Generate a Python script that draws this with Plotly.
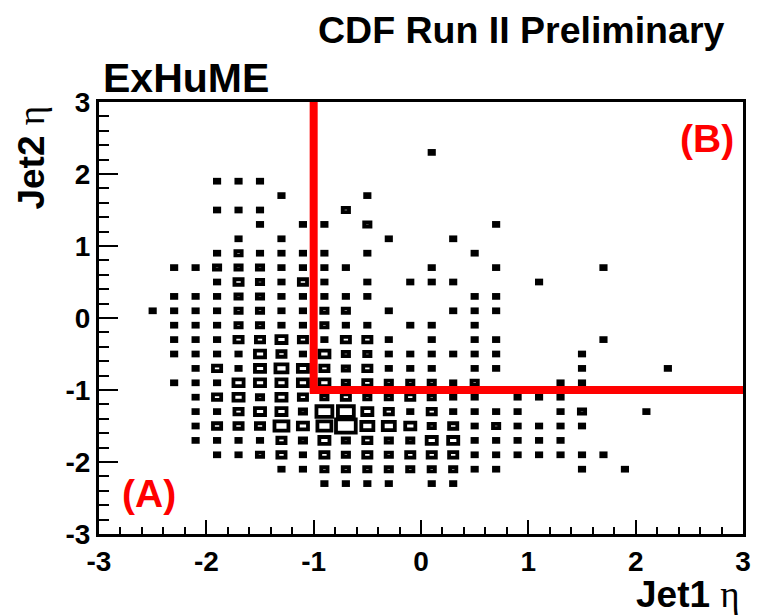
import plotly.graph_objects as go

# ---------------- data (bin centres and box contents) ----------------
# one entry per non-empty 0.2 x 0.2 bin: Jet1 eta (flat list, row by row)
jet1_eta = [
    0.1,                                                    # row 2.3
    -1.9, -1.7, -1.5,                                       # row 1.9
    -1.3, -0.5,                                             # row 1.7
    -1.9, -1.7, -1.5, -0.7,                                 # row 1.5
    -1.5, -1.1, -0.9, -0.5, 0.7,                            # row 1.3
    -1.7, -1.3, -0.3, 0.3,                                  # row 1.1
    -1.9, -1.7, -1.5, -1.3, -1.1, -0.9, -0.5, 0.5,          # row 0.9
    -2.3, -2.1, -1.9, -1.7, -1.5, -1.3, -1.1, -0.9, -0.7, 0.1, 0.7, 1.7,          # row 0.7
    -1.9, -1.7, -1.5, -1.3, -1.1, -0.9, -0.5, -0.1, 0.1, 0.3, 1.1,                # row 0.5
    -2.3, -2.1, -1.9, -1.7, -1.5, -1.3, -1.1, -0.9, -0.7, -0.5, 0.5, 0.7,         # row 0.3
    -2.5, -2.3, -2.1, -1.9, -1.7, -1.5, -1.3, -1.1, -0.9, -0.7, -0.3, 0.3, 0.5, 0.7,   # row 0.1
    -2.3, -2.1, -1.9, -1.7, -1.5, -1.3, -1.1, -0.9, -0.7, -0.5, -0.1, 0.1, 0.5,        # row -0.1
    -2.3, -2.1, -1.9, -1.7, -1.5, -1.3, -1.1, -0.9, -0.7, -0.5, -0.3, 0.1, 0.5, 0.7, 1.7,   # row -0.3
    -2.3, -2.1, -1.9, -1.7, -1.5, -1.3, -1.1, -0.9, -0.7, -0.5, -0.3, -0.1, 0.1, 0.3, 0.5, 0.7, 1.5,  # row -0.5
    -2.1, -1.9, -1.7, -1.5, -1.3, -1.1, -0.9, -0.7, -0.5, -0.3, -0.1, 0.1, 0.5, 0.7, 1.5, 2.3,  # row -0.7
    -2.3, -2.1, -1.9, -1.7, -1.5, -1.3, -1.1, -0.9, -0.7, -0.5, -0.3, -0.1, 0.1, 0.3, 0.5, 1.3, 1.5,  # row -0.9
    -2.1, -1.9, -1.7, -1.5, -1.3, -1.1, -0.9, -0.7, -0.5, -0.3, -0.1, 0.1, 0.3, 0.5, 0.9, 1.1, 1.3,  # row -1.1
    -2.1, -1.9, -1.7, -1.5, -1.3, -1.1, -0.9, -0.7, -0.5, -0.3, -0.1, 0.1, 0.3, 0.5, 0.7, 0.9, 1.3, 1.5, 2.1,  # row -1.3
    -2.1, -1.9, -1.7, -1.5, -1.3, -1.1, -0.9, -0.7, -0.5, -0.3, -0.1, 0.1, 0.3, 0.5, 0.7, 0.9, 1.1, 1.3, 1.5,  # row -1.5
    -2.1, -1.9, -1.7, -1.5, -1.3, -1.1, -0.9, -0.7, -0.5, -0.3, -0.1, 0.1, 0.3, 0.5, 0.7, 0.9, 1.1, 1.3,  # row -1.7
    -1.9, -1.7, -1.5, -1.3, -1.1, -0.9, -0.7, -0.5, -0.3, -0.1, 0.1, 0.3, 0.5, 0.7, 0.9, 1.1, 1.3, 1.5, 1.7,  # row -1.9
    -1.3, -1.1, -0.9, -0.7, -0.5, -0.3, -0.1, 0.1, 0.3, 0.5, 0.7, 1.5, 1.9,   # row -2.1
    -0.9, -0.7, -0.5, -0.3, 0.1, 0.3,                                       # row -2.3
]

# Jet2 eta of each row
row_eta = [2.3, 1.9, 1.7, 1.5, 1.3, 1.1, 0.9, 0.7, 0.5, 0.3, 0.1, -0.1, -0.3,
           -0.5, -0.7, -0.9, -1.1, -1.3, -1.5, -1.7, -1.9, -2.1, -2.3]

# relative bin contents, row by row (same order as jet1_eta)
entries = [
    [1],
    [1, 1, 1],
    [1, 1],
    [1, 1, 1, 2],
    [1, 1, 1, 2, 1],
    [1, 1, 1, 1],
    [1, 2, 1, 1, 1, 1, 1, 1],
    [1, 1, 2, 2, 2, 1, 1, 1, 1, 1, 1, 1],
    [1, 3, 2, 1, 3, 1, 1, 1, 1, 1, 1],
    [1, 1, 1, 2, 2, 1, 1, 1, 1, 1, 1, 1],
    [1, 1, 1, 1, 2, 2, 1, 1, 2, 2, 1, 1, 1, 1],
    [1, 1, 1, 2, 2, 1, 1, 2, 1, 1, 1, 1, 1],
    [1, 1, 1, 3, 3, 4, 3, 1, 3, 3, 1, 1, 1, 1, 1],
    [1, 1, 1, 1, 4, 3, 1, 4, 2, 2, 1, 1, 1, 1, 1, 1, 1],
    [1, 3, 1, 4, 5, 4, 3, 2, 3, 1, 1, 1, 1, 1, 1, 1],
    [1, 1, 1, 4, 4, 4, 4, 4, 2, 3, 2, 2, 2, 1, 2, 1, 1],
    [1, 3, 4, 2, 4, 3, 2, 3, 2, 2, 3, 2, 1, 1, 1, 1, 1],
    [1, 1, 3, 4, 4, 2, 7, 7, 4, 3, 1, 3, 1, 1, 1, 1, 1, 2, 1],
    [1, 3, 3, 3, 6, 4, 6, 9, 5, 5, 4, 2, 3, 1, 2, 1, 1, 1, 1],
    [1, 1, 1, 1, 3, 2, 4, 2, 3, 2, 2, 4, 4, 1, 1, 1, 1, 1],
    [1, 1, 2, 3, 1, 3, 2, 3, 2, 3, 3, 3, 1, 1, 1, 1, 1, 1, 1],
    [1, 1, 2, 2, 2, 2, 2, 2, 2, 1, 1, 1, 1],
    [1, 1, 1, 1, 1, 1],
]

x_ticks = [-3, -2, -1, 0, 1, 2, 3]
y_ticks = [-3, -2, -1, 0, 1, 2, 3]
cut_jet1 = -1.0
cut_jet2 = -1.0

# ---------------- build ----------------
BIN = 0.2
FILL = 0.92
FMIN = 0.22
jet2_eta = [y for y, row in zip(row_eta, entries) for _ in row]
counts = [c for row in entries for c in row]
assert len(jet2_eta) == len(jet1_eta)
cmax = max(counts)

shapes = []
for x, y, c in zip(jet1_eta, jet2_eta, counts):
    frac = FMIN + (1 - FMIN) * (c - 1) / (cmax - 1)
    h = 0.5 * BIN * FILL * frac
    shapes.append(dict(type="rect", xref="x", yref="y",
                       x0=x - h, x1=x + h, y0=y - h, y1=y + h,
                       line=dict(color="black", width=3.8),
                       fillcolor="rgba(0,0,0,0)", layer="above"))

# cut lines
shapes.append(dict(type="path", xref="x", yref="y",
                   path=f"M {cut_jet1},{max(y_ticks)} L {cut_jet1},{cut_jet2} L {max(x_ticks)},{cut_jet2}",
                   line=dict(color="#ff0000", width=8), layer="above"))

fig = go.Figure()
# invisible trace to carry the axes
fig.add_trace(go.Scatter(x=jet1_eta, y=jet2_eta, mode="markers",
                         marker=dict(size=1, opacity=0), hoverinfo="skip",
                         showlegend=False))

W, H = 763, 615
L, R, T, B = 99, 748, 102, 534


def px(xp):
    return (xp - L) / (R - L)


def py(yp):
    return (B - yp) / (B - T)


FONT = "Liberation Sans, Arial, sans-serif"
ETA = '<span style="font-family:\'Liberation Serif\',serif;font-weight:normal">η</span>'

annotations = [
    dict(text="CDF Run II Preliminary", xref="paper", yref="paper",
         x=px(731), y=py(30), xanchor="right", yanchor="middle", showarrow=False,
         font=dict(family=FONT, size=37.5, color="black", weight="bold")),
    dict(text="ExHuME", xref="paper", yref="paper",
         x=px(101), y=py(78), xanchor="left", yanchor="middle", showarrow=False,
         font=dict(family=FONT, size=41, color="black", weight="bold")),
    dict(text="Jet1 " + ETA, xref="paper", yref="paper",
         x=px(747), y=py(594), xanchor="right", yanchor="middle", showarrow=False,
         font=dict(family=FONT, size=37, color="black", weight="bold")),
    dict(text="Jet2 " + ETA, xref="paper", yref="paper", textangle=-90,
         x=px(30), y=py(158), xanchor="center", yanchor="middle", showarrow=False,
         font=dict(family=FONT, size=37, color="black", weight="bold")),
    dict(text="(A)", xref="x", yref="y", x=-2.53, y=-2.44,
         showarrow=False, font=dict(family=FONT, size=39, color="#ff0000", weight="bold")),
    dict(text="(B)", xref="x", yref="y", x=2.66, y=2.5,
         showarrow=False, font=dict(family=FONT, size=39, color="#ff0000", weight="bold")),
]

axis_common = dict(showgrid=False, zeroline=False, showline=True, linewidth=3,
                   linecolor="black", mirror=True, ticks="inside", tickwidth=2,
                   tickcolor="black", tickmode="array",
                   tickfont=dict(family=FONT, size=28, color="black", weight="bold"))

fig.update_layout(
    width=W, height=H,
    margin=dict(l=L, r=W - R, t=T, b=H - B, pad=0),
    paper_bgcolor="white", plot_bgcolor="white",
    shapes=shapes, annotations=annotations,
    xaxis=dict(range=[min(x_ticks), max(x_ticks)], tickvals=x_ticks,
               ticktext=[str(v) for v in x_ticks], ticklen=14,
               minor=dict(ticks="inside", ticklen=7, tickwidth=2, tickcolor="black",
                          dtick=0.2, tick0=0, showgrid=False),
               **axis_common),
    yaxis=dict(range=[min(y_ticks), max(y_ticks)], tickvals=y_ticks,
               ticktext=[str(v) for v in y_ticks], ticklen=19,
               minor=dict(ticks="inside", ticklen=10, tickwidth=2, tickcolor="black",
                          dtick=0.2, tick0=0, showgrid=False),
               **axis_common),
)

fig.write_html("out.html")
